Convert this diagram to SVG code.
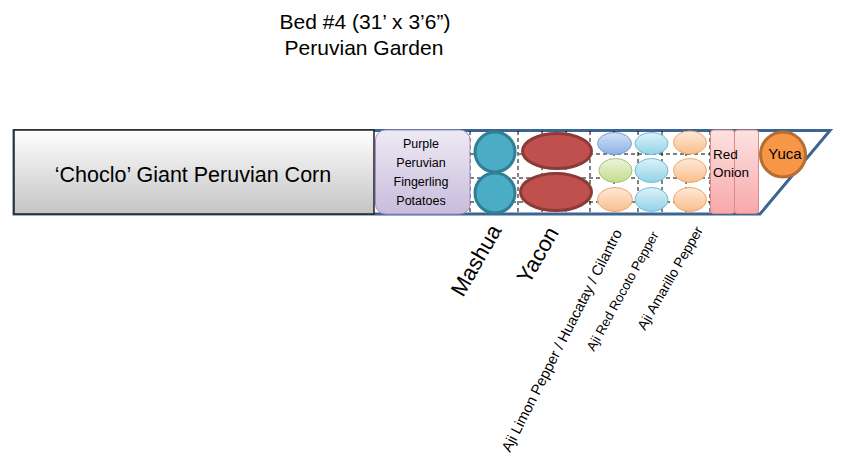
<svg xmlns="http://www.w3.org/2000/svg" width="842" height="464" viewBox="0 0 842 464">
<defs>
<linearGradient id="gCorn" x1="0" y1="0" x2="0" y2="1"><stop offset="0" stop-color="#FFFFFF"/><stop offset="1" stop-color="#C4C4C4"/></linearGradient>
<linearGradient id="gPot" x1="0" y1="0" x2="0" y2="1"><stop offset="0" stop-color="#EEEAF4"/><stop offset="1" stop-color="#C8BCDC"/></linearGradient>
<linearGradient id="gBlue" x1="0" y1="0" x2="0" y2="1"><stop offset="0" stop-color="#D3E1F5"/><stop offset="1" stop-color="#8EB1E6"/></linearGradient>
<linearGradient id="gGreen" x1="0" y1="0" x2="0" y2="1"><stop offset="0" stop-color="#EEF5DC"/><stop offset="1" stop-color="#C2DC8E"/></linearGradient>
<linearGradient id="gOrange" x1="0" y1="0" x2="0" y2="1"><stop offset="0" stop-color="#FEE9D8"/><stop offset="1" stop-color="#F9BE8C"/></linearGradient>
<linearGradient id="gCyan" x1="0" y1="0" x2="0" y2="1"><stop offset="0" stop-color="#DDF2F8"/><stop offset="1" stop-color="#92D3E8"/></linearGradient>
<linearGradient id="gOnion" x1="0" y1="0" x2="0" y2="1"><stop offset="0" stop-color="#FDE2E2"/><stop offset="1" stop-color="#F8A8A8"/></linearGradient>
</defs>
<style>
text{font-family:"Liberation Sans",Arial,sans-serif;fill:#000}
.grid{stroke:#000;stroke-width:1;stroke-dasharray:4 3;fill:none}
.blue{fill:url(#gBlue);stroke:#7E9FD3;stroke-width:1}
.green{fill:url(#gGreen);stroke:#A4C175;stroke-width:1}
.orange{fill:url(#gOrange);stroke:#EDA56E;stroke-width:1}
.cyan{fill:url(#gCyan);stroke:#6FBCD4;stroke-width:1}
.mashua{fill:#4BACC6;stroke:#2F7F95;stroke-width:3}
.yacon{fill:#C0504D;stroke:#8C3A38;stroke-width:3}
.onion{fill:url(#gOnion);stroke:#D98A8A;stroke-width:1}
</style>
<g id="title">
<text x="365" y="29" font-size="21" text-anchor="middle">Bed #4 (31’ x 3’6”)</text>
<text x="364" y="55" font-size="21" text-anchor="middle">Peruvian Garden</text>
</g>
<g id="bed">
<polygon points="14,130.5 830,130.5 760,214 14,214" fill="#FFFFFF" stroke="#3D6591" stroke-width="3"/>
</g>
<g id="grid">
<path class="grid" d="M470,131V213M494,131V213M518,131V213M542,131V213M566,131V213M590,131V213M614,131V213M638,131V213M662,131V213M686,131V213M710,131V213M734,131V213M470,154H710M470,178H710M470,202H710"/>
</g>
<g id="corn">
<rect x="14" y="130" width="360" height="84" fill="url(#gCorn)" stroke="#222" stroke-width="1.5"/>
<text x="193" y="182" font-size="21.5" text-anchor="middle">‘Choclo’ Giant Peruvian Corn</text>
</g>
<g id="potatoes">
<rect x="375.5" y="130" width="94.5" height="84" rx="10" fill="url(#gPot)" stroke="#A08EC2" stroke-width="1"/>
<text font-size="12.5" text-anchor="middle"><tspan x="421" y="148">Purple</tspan><tspan x="421" y="167">Peruvian</tspan><tspan x="421" y="186">Fingerling</tspan><tspan x="421" y="205">Potatoes</tspan></text>
</g>
<g id="mashua">
<circle class="mashua" cx="495" cy="152" r="20"/>
<circle class="mashua" cx="495" cy="193" r="20"/>
</g>
<g id="yacon">
<ellipse class="yacon" cx="557" cy="151" rx="34.5" ry="17.5"/>
<ellipse class="yacon" cx="556" cy="192" rx="35.5" ry="18.5"/>
</g>
<g id="aji-limon">
<ellipse class="blue" cx="614.5" cy="143.5" rx="17" ry="11"/>
<ellipse class="green" cx="615.5" cy="170.5" rx="16.5" ry="12"/>
<ellipse class="orange" cx="615" cy="199.5" rx="17.5" ry="12"/>
</g>
<g id="aji-rocoto">
<ellipse class="cyan" cx="651.5" cy="143.5" rx="16.5" ry="11"/>
<ellipse class="cyan" cx="651.5" cy="170.5" rx="16.5" ry="12"/>
<ellipse class="cyan" cx="651.5" cy="199.5" rx="16.5" ry="12"/>
</g>
<g id="aji-amarillo">
<ellipse class="orange" cx="690" cy="142.5" rx="16.5" ry="11.5"/>
<ellipse class="orange" cx="690" cy="170.5" rx="16.5" ry="12"/>
<ellipse class="orange" cx="690" cy="199.5" rx="16.5" ry="12"/>
</g>
<g id="red-onion">
<rect class="onion" x="710.5" y="130" width="24" height="83.5" rx="3"/>
<rect class="onion" x="734.5" y="130" width="24" height="83.5" rx="3"/>
<text font-size="13.5"><tspan x="713" y="159">Red</tspan><tspan x="713" y="177">Onion</tspan></text>
</g>
<g id="yuca">
<circle cx="783" cy="154.5" r="22.5" fill="#F79646" stroke="#B66D31" stroke-width="3"/>
<text x="785" y="159" font-size="15" text-anchor="middle">Yuca</text>
</g>
<g id="labels">
<text font-size="22" transform="translate(463,298) rotate(-60)">Mashua</text>
<text font-size="22" transform="translate(529,285) rotate(-60)">Yacon</text>
<text font-size="14.6" transform="translate(510,453) rotate(-63)">Aji Limon Pepper / Huacatay / Cilantro</text>
<text font-size="13.2" transform="translate(594,352) rotate(-61)">Aji Red Rocoto Pepper</text>
<text font-size="13.8" transform="translate(645,331) rotate(-60)">Aji Amarillo Pepper</text>
</g>
</svg>
